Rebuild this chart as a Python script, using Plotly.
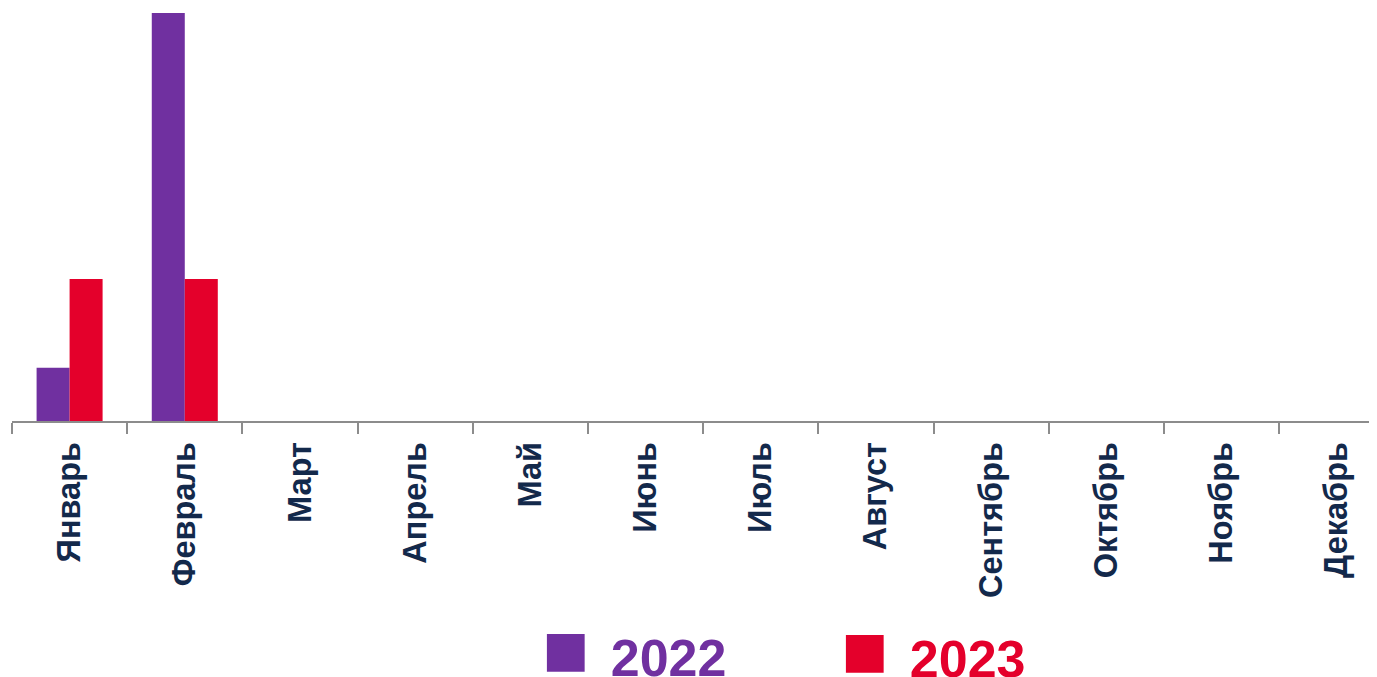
import plotly.graph_objects as go

months = ["Январь", "Февраль", "Март", "Апрель", "Май", "Июнь", "Июль",
          "Август", "Сентябрь", "Октябрь", "Ноябрь", "Декабрь"]
values_2022 = [3, 23, None, None, None, None, None, None, None, None, None, None]
values_2023 = [8, 8, None, None, None, None, None, None, None, None, None, None]
series_names = ["2022", "2023"]
colors = ["#7030A0", "#E4002B"]

fig = go.Figure()
fig.add_trace(go.Bar(x=months, y=values_2022, name=series_names[0],
                     marker=dict(color=colors[0], line=dict(width=0)), showlegend=False))
fig.add_trace(go.Bar(x=months, y=values_2023, name=series_names[1],
                     marker=dict(color=colors[1], line=dict(width=0)), showlegend=False))

# legend entries (large square glyph + year), one legend per series
for i, (nm, col) in enumerate(zip(series_names, colors)):
    fig.add_trace(go.Scatter(
        x=[None], y=[None], mode="markers",
        marker=dict(color="rgba(0,0,0,0)", size=1),
        name=f'<span style="font-size:78px">■ </span><b>{nm}</b>',
        legend="legend" if i == 0 else "legend2",
        showlegend=True, hoverinfo="skip"))

legend_common = dict(orientation="h", bgcolor="rgba(0,0,0,0)", itemwidth=30,
                     xanchor="left", yanchor="top", xref="container", yref="container")

# the page body adds an 8px offset, so the figure is sized to end at the window edge
fig.update_layout(
    width=1369, height=669,
    margin=dict(l=4, r=0, t=5, b=256, autoexpand=False),
    paper_bgcolor="white", plot_bgcolor="white",
    barmode="group", bargap=0.427, bargroupgap=0,
    font=dict(family="Liberation Sans, Arial, sans-serif"),
    xaxis=dict(
        type="category", range=[-0.5, 11.35], automargin=False,
        showline=True, linecolor="#8C8C8C", linewidth=2,
        ticks="outside", tickson="boundaries", ticklen=11, tickwidth=2,
        tickcolor="#8C8C8C", tickangle=-90, ticklabelstandoff=6,
        tickfont=dict(size=32.5, color="#13294B", weight="bold"),
        showgrid=False, zeroline=False,
    ),
    yaxis=dict(range=[0, 23], visible=False, showgrid=False, zeroline=False),
    legend=dict(**legend_common, x=0.3608, y=0.0927,
                font=dict(size=52, color=colors[0])),
    legend2=dict(**legend_common, x=0.5793, y=0.0912,
                 font=dict(size=52, color=colors[1])),
)

fig.write_html("out.html")
